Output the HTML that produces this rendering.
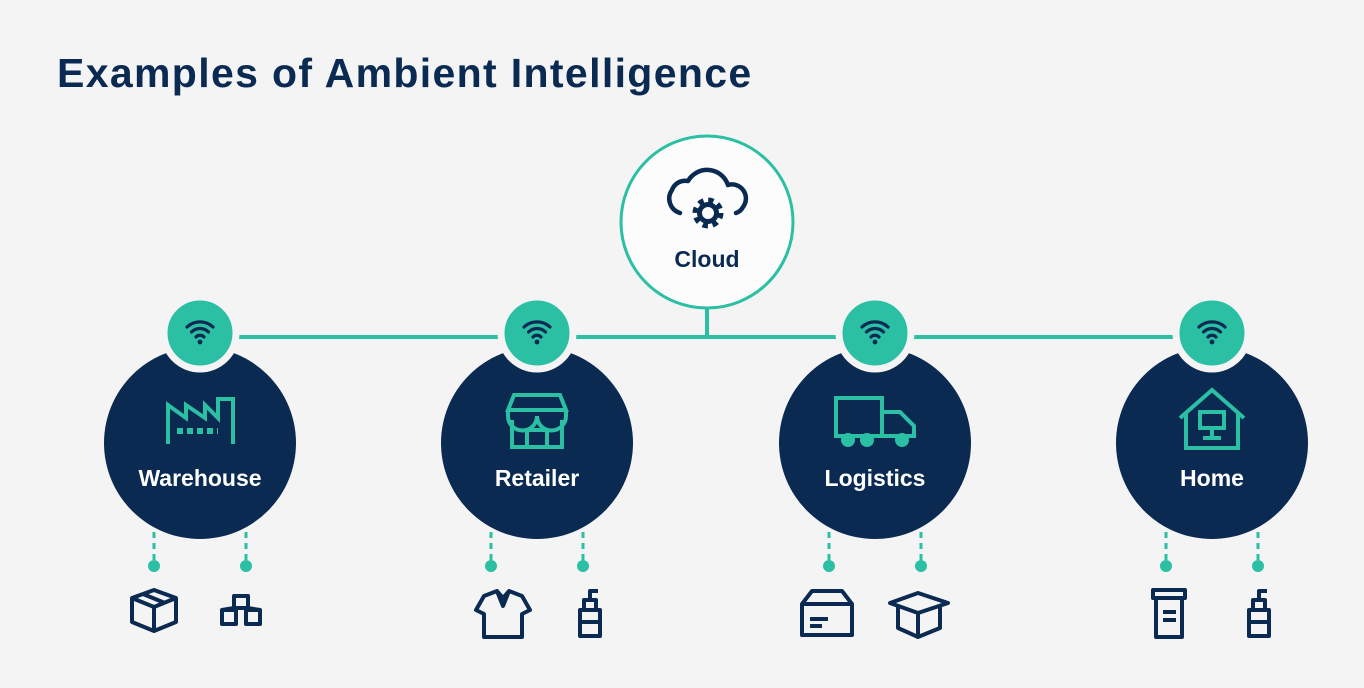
<!DOCTYPE html>
<html><head><meta charset="utf-8"><style>
html,body{margin:0;padding:0;background:#f4f4f5;}
body{width:1364px;height:688px;overflow:hidden;position:relative;font-family:"Liberation Sans",sans-serif;}
h1{position:absolute;left:57px;top:50px;margin:0;font-size:41px;font-weight:bold;color:#0b2a52;letter-spacing:1.35px;}
</style></head><body>
<h1>Examples of Ambient Intelligence</h1>
<svg width="1364" height="688" style="position:absolute;left:0;top:0">
<defs>
<g id="wifi" fill="none" stroke="#0b2a52" stroke-width="3.2" stroke-linecap="round">
<path d="M-13,-4 A19,19 0 0 1 13,-4"/><path d="M-8.5,1 A12,12 0 0 1 8.5,1"/><path d="M-4,6 A5.5,5.5 0 0 1 4,6"/>
<circle cx="0" cy="11" r="2.4" fill="#0b2a52" stroke="none"/></g>
</defs>
<line x1="230" y1="337" x2="1185" y2="337" stroke="#2bbfa3" stroke-width="4"/>
<line x1="707" y1="308" x2="707" y2="337" stroke="#2bbfa3" stroke-width="4"/>
<circle cx="707" cy="222" r="86" fill="#fcfcfc" stroke="#2bbfa3" stroke-width="3"/>
<g fill="none" stroke="#0b2a52" stroke-width="4.5" stroke-linejoin="round" stroke-linecap="round">
<path d="M680,213 a15,15 0 0 1 -8,-23 a14,14 0 0 1 16,-9 a22,22 0 0 1 40,4 a14,14 0 0 1 15,22 a12,12 0 0 1 -7,6"/>
</g>
<circle cx="708" cy="213" r="12" fill="none" stroke="#0b2a52" stroke-width="7" stroke-dasharray="5 4.4"/>
<circle cx="708" cy="213" r="8.5" fill="none" stroke="#0b2a52" stroke-width="5"/>
<text x="707" y="267" text-anchor="middle" font-size="23" font-weight="bold" fill="#0b2a52">Cloud</text>

<g font-size="23" font-weight="bold" fill="#fff" text-anchor="middle">
<circle cx="200" cy="443" r="96" fill="#0b2a52"/>
<circle cx="537" cy="443" r="96" fill="#0b2a52"/>
<circle cx="875" cy="443" r="96" fill="#0b2a52"/>
<circle cx="1212" cy="443" r="96" fill="#0b2a52"/>
<text x="200" y="486">Warehouse</text>
<text x="537" y="486">Retailer</text>
<text x="875" y="486">Logistics</text>
<text x="1212" y="486">Home</text>
</g>
<g fill="#2bbfa3" stroke="#f4f4f5" stroke-width="7">
<circle cx="200" cy="333" r="36"/><circle cx="537" cy="333" r="36"/><circle cx="875" cy="333" r="36"/><circle cx="1212" cy="333" r="36"/>
</g>
<use href="#wifi" x="200" y="331"/><use href="#wifi" x="537" y="331"/><use href="#wifi" x="875" y="331"/><use href="#wifi" x="1212" y="331"/>
<g fill="none" stroke="#2bbfa3" stroke-width="4">
<path d="M168,444 V405 L186,418 V405 L205,418 V405 L218,418 V399 H233 V444"/>
<path d="M177,431 H218" stroke-dasharray="6 4" stroke-width="6"/>
<path d="M508,410 L514,395 H560 L566,410 Z M508,410 v6 a7,7 0 0 0 29,0 a7,7 0 0 0 29,0 v-6 M512,420 V447 H562 V420 M527,447 V430 H547 V447"/>
<path d="M836,398 H882 V436 H836 Z M882,412 H900 L914,426 V436 H882"/>
<circle cx="848" cy="440" r="5" fill="#2bbfa3"/><circle cx="867" cy="440" r="5" fill="#2bbfa3"/><circle cx="902" cy="440" r="5" fill="#2bbfa3"/>
<path d="M1180,418 L1212,390 L1244,418 M1186,414 V448 H1238 V414 M1200,412 H1224 V428 H1200 Z M1212,428 V438 M1203,438 H1221"/>
</g>
<g stroke="#2bbfa3" stroke-width="3" stroke-dasharray="6 5">
<path d="M154,532 V563 M246,532 V563 M491,532 V563 M583,532 V563 M829,532 V563 M921,532 V563 M1166,532 V563 M1258,532 V563"/>
</g>
<g fill="#2bbfa3">
<circle cx="154" cy="566" r="6"/><circle cx="246" cy="566" r="6"/><circle cx="491" cy="566" r="6"/><circle cx="583" cy="566" r="6"/>
<circle cx="829" cy="566" r="6"/><circle cx="921" cy="566" r="6"/><circle cx="1166" cy="566" r="6"/><circle cx="1258" cy="566" r="6"/>
</g>
<g fill="none" stroke="#0b2a52" stroke-width="4" stroke-linejoin="round">
<path d="M132,598 L154,590 L176,598 V622 L154,631 L132,622 Z M132,598 L154,607 L176,598 M154,607 V631 M143,594 L165,603"/>
<path d="M234,596 h14 v12 h-14 z M222,610 h14 v14 h-14 z M246,610 h14 v14 h-14 z M234,608 l-12,2 M248,608 l12,2"/>
<path d="M484,596 L497,591 L503,598 L509,591 L522,596 L530,610 L522,614 V637 H484 V614 L476,610 Z M497,591 L503,606 L509,591"/>
<path d="M580,610 h20 v26 h-20 z M584,610 v-10 h12 v10 M590,600 v-9 h8 M582,622 h16"/>
<path d="M802,604 L812,591 H842 L852,604 V635 H802 Z M802,604 H852 M810,619 H828 M810,626 H822"/>
<path d="M890,603 L918,593 L948,603 L918,613 Z M898,607 V628 L918,637 L940,628 V607 M918,613 V637"/>
<path d="M1153,590 H1185 V598 H1153 Z M1156,598 V637 H1182 V598 M1163,612 H1176 M1163,620 H1176"/>
<path d="M1249,610 h20 v26 h-20 z M1253,610 v-10 h12 v10 M1259,600 v-9 h8 M1251,622 h16"/>
</g>
</svg>
</body></html>
